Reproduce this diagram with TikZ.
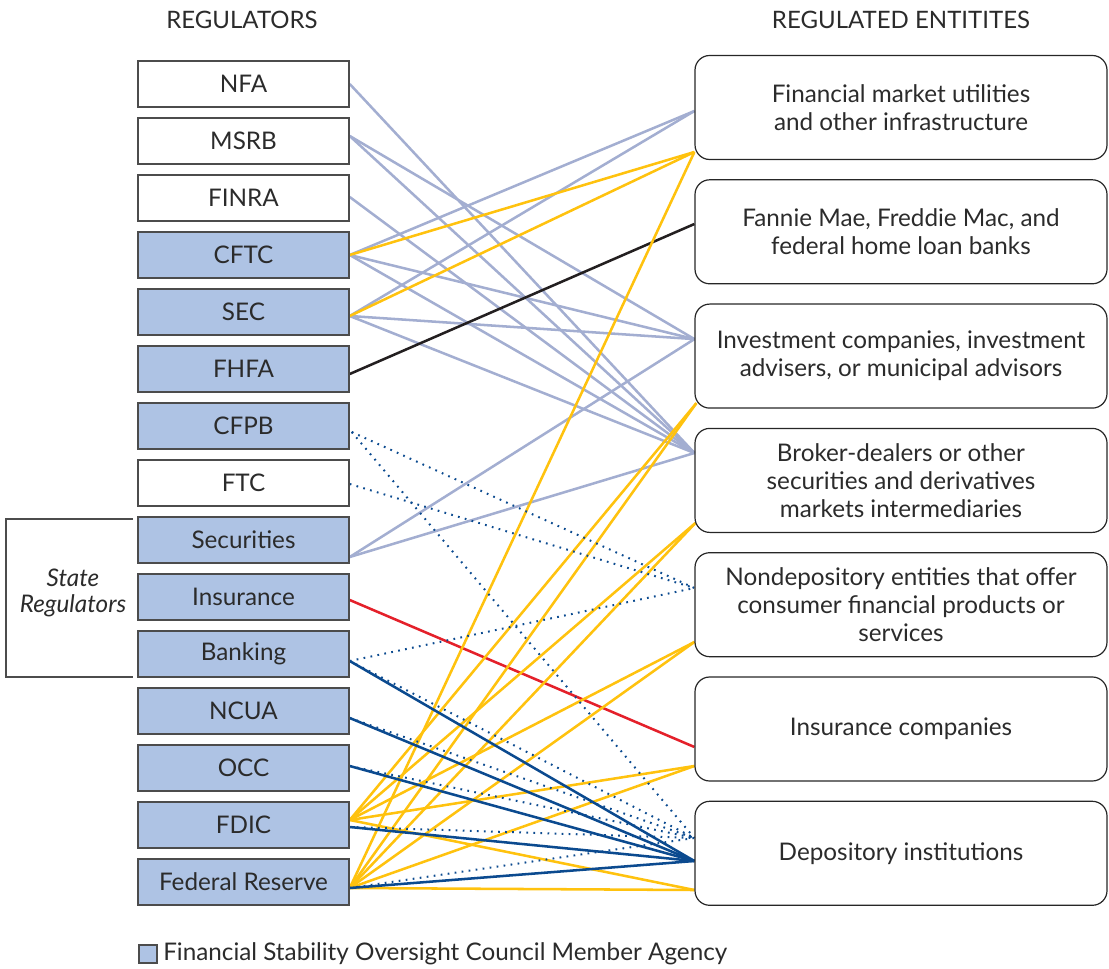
\documentclass[tikz,border=0pt]{standalone}
\usepackage{fontspec}
\setmainfont{Lato}
\usetikzlibrary{calc,backgrounds}
\definecolor{fsoc}{HTML}{AEC3E4}
\definecolor{lbc}{HTML}{A3AED1}
\definecolor{ylc}{HTML}{FFC20E}
\definecolor{dbc}{HTML}{0B4A8F}
\definecolor{rdc}{HTML}{E4202A}
\definecolor{bkc}{HTML}{231F20}
\definecolor{txc}{HTML}{2B2B2B}
\begin{document}
\begin{tikzpicture}[x=0.75pt,y=-0.75pt, every node/.style={text=txc},
  regbox/.style={draw=black!70, line width=1.1pt, minimum width=158.25pt, minimum height=34.5pt, inner sep=0pt, font=\fontsize{18.2}{21}\selectfont},
  member/.style={regbox, fill=fsoc},
  entbox/.style={draw=black!85, line width=0.9pt, rounded corners=11pt, minimum width=309pt, minimum height=78pt, inner sep=0pt, align=center, font=\fontsize{18.2}{21}\selectfont},
  head/.style={font=\fontsize{18}{21}\selectfont, inner sep=0pt},
  lbl/.style={lbc, line width=1.9pt},
  yel/.style={ylc, line width=1.9pt},
  dbl/.style={dbc, line width=1.9pt},
  dotl/.style={dbc, line width=1.5pt, dash pattern=on 1.3pt off 4pt},
  redl/.style={rdc, line width=1.9pt},
  blkl/.style={bkc, line width=1.9pt}]
\useasboundingbox (0,0) rectangle (1109,969);
\node[head] (h1) at (242,20) {REGULATORS};
\node[head] (h2) at (901,20) {REGULATED ENTITITES};
% left
\node[regbox] (nfa) at (243.5,84) {NFA};
\node[regbox] (msrb) at (243.5,141) {MSRB};
\node[regbox] (finra) at (243.5,198) {FINRA};
\node[member] (cftc) at (243.5,255) {CFTC};
\node[member] (sec) at (243.5,312) {SEC};
\node[member] (fhfa) at (243.5,369) {FHFA};
\node[member] (cfpb) at (243.5,426) {CFPB};
\node[regbox] (ftc) at (243.5,483) {FTC};
\node[member] (secs) at (243.5,540) {Securities};
\node[member] (ins) at (243.5,597) {Insurance};
\node[member] (bank) at (243.5,654) {Banking};
\node[member] (ncua) at (243.5,711) {NCUA};
\node[member] (occ) at (243.5,768) {OCC};
\node[member] (fdic) at (243.5,825) {FDIC};
\node[member] (fed) at (243.5,882) {Federal Reserve};
% right
\node[entbox] (fmu) at (901,107.5) {Financial market utilities\\and other infrastructure};
\node[entbox] (gse) at (901,231.8) {Fannie Mae, Freddie Mac, and\\federal home loan banks};
\node[entbox] (inv) at (901,356.1) {Investment companies, investment\\advisers, or municipal advisors};
\node[entbox] (brk) at (901,480.4) {Broker-dealers or other\\securities and derivatives\\markets intermediaries};
\node[entbox] (nd) at (901,604.7) {Nondepository entities that offer\\consumer financial products or\\services};
\node[entbox] (ic) at (901,729) {Insurance companies};
\node[entbox] (dep) at (901,853.3) {Depository institutions};
% state regulators bracket
\draw[black!70, line width=0.8pt] (133,519) -- (6,519) -- (6,677) -- (133,677);
\node[font=\fontsize{18.2}{19}\selectfont\itshape, align=center, inner sep=0pt] (st) at (73,593) {State\\Regulators};
% legend
\node[draw=black!70, line width=0.8pt, fill=fsoc, minimum size=13.5pt, inner sep=0pt] (lgsq) at (148,954) {};
\node[anchor=west, inner sep=0pt, font=\fontsize{18.2}{21}\selectfont] (lgtx) at (163,954) {Financial Stability Oversight Council Member Agency};
% anchor points
\coordinate (nfaP) at (nfa.east);
\coordinate (msrbP) at ($(msrb.east)+(0,-5)$);
\coordinate (finraP) at ($(finra.east)+(0,-1)$);
\coordinate (cftcP) at (cftc.east);
\coordinate (secP) at ($(sec.east)+(0,4)$);
\coordinate (fhfaP) at ($(fhfa.east)+(0,5)$);
\coordinate (cfpbP) at ($(cfpb.east)+(2,6)$);
\coordinate (ftcP) at ($(ftc.east)+(0,1)$);
\coordinate (secsP) at ($(secs.east)+(0,17)$);
\coordinate (insP) at ($(ins.east)+(0,3)$);
\coordinate (bankP) at ($(bank.east)+(0,7)$);
\coordinate (ncuaP) at ($(ncua.east)+(0,7)$);
\coordinate (occP) at ($(occ.east)+(0,-2)$);
\coordinate (fdicY) at ($(fdic.east)+(0,-5)$);
\coordinate (fdicB) at ($(fdic.east)+(0,2)$);
\coordinate (fedP) at ($(fed.east)+(0,6)$);
\coordinate (fmuA) at ($(fmu.west)+(0,3.5)$);
\coordinate (fmuY) at ($(fmu.west)+(0,44.5)$);
\coordinate (gseP) at ($(gse.west)+(0,-7.8)$);
\coordinate (invA) at ($(inv.west)+(0,-17)$);
\coordinate (invY) at ($(inv.west)+(2,47)$);
\coordinate (brkA) at ($(brk.west)+(0,-27.4)$);
\coordinate (brkY) at ($(brk.west)+(1,42.6)$);
\coordinate (ndD) at ($(nd.west)+(0,-16.7)$);
\coordinate (ndY) at ($(nd.west)+(0,37.3)$);
\coordinate (icR) at ($(ic.west)+(0,18)$);
\coordinate (icY) at ($(ic.west)+(0,37)$);
\coordinate (depD) at ($(dep.west)+(0,-15.3)$);
\coordinate (depB) at ($(dep.west)+(0,7.7)$);
\coordinate (depY) at ($(dep.west)+(0,36.7)$);
\begin{scope}[on background layer]
% light blue
\draw[lbl] (nfaP) -- (brkA);
\draw[lbl] (msrbP) -- (invA);
\draw[lbl] (msrbP) -- (brkA);
\draw[lbl] (finraP) -- (brkA);
\draw[lbl] (cftcP) -- (fmuA);
\draw[lbl] (cftcP) -- (invA);
\draw[lbl] (cftcP) -- (brkA);
\draw[lbl] (secP) -- (fmuA);
\draw[lbl] (secP) -- (invA);
\draw[lbl] (secP) -- (brkA);
\draw[lbl] (secsP) -- (invA);
\draw[lbl] (secsP) -- (brkA);
% black, red
\draw[blkl] (fhfaP) -- (gseP);
\draw[redl] (insP) -- (icR);
% yellow
\draw[yel] (cftcP) -- (fmuY);
\draw[yel] (secP) -- (fmuY);
\draw[yel] (fedP) -- (fmuY);
\draw[yel] (fdicY) -- (invY);
\draw[yel] (fedP) -- (invY);
\draw[yel] (fdicY) -- (brkY);
\draw[yel] (fedP) -- (brkY);
\draw[yel] (fdicY) -- (ndY);
\draw[yel] (fedP) -- (ndY);
\draw[yel] (fdicY) -- (icY);
\draw[yel] (fedP) -- (icY);
\draw[yel] (fdicY) -- (depY);
\draw[yel] (fedP) -- (depY);
% dotted
\draw[dotl] (cfpbP) -- (ndD);
\draw[dotl] (cfpbP) -- (depD);
\draw[dotl] (ftcP) -- (ndD);
\draw[dotl] (bankP) -- (ndD);
\draw[dotl] (bankP) -- (depD);
\draw[dotl] (ncuaP) -- (depD);
\draw[dotl] (occP) -- (depD);
\draw[dotl] (fdicB) -- (depD);
\draw[dotl] (fedP) -- (depD);
% dark blue
\draw[dbl] (bankP) -- (depB);
\draw[dbl] (ncuaP) -- (depB);
\draw[dbl] (occP) -- (depB);
\draw[dbl] (fdicB) -- (depB);
\draw[dbl] (fedP) -- (depB);
\end{scope}
\end{tikzpicture}
\end{document}
